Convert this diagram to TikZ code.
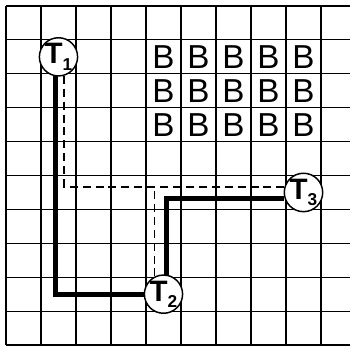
\documentclass[tikz,border=0pt]{standalone}
\usepackage{fontspec}
\setmainfont{Liberation Sans}
\newcommand{\tname}[1]{T\raisebox{-5pt}{\fontsize{14}{14}\selectfont #1}}

\begin{document}
\begin{tikzpicture}[x=1cm, y=0.9686cm,
  gridline/.style={line width=0.9pt},
  term/.style={draw, circle, line width=1.2pt, fill=white, minimum size=0.88cm,
    inner sep=0pt, font=\fontsize{24}{24}\selectfont\bfseries},
  blk/.style={font=\fontsize{27}{27}\selectfont},
  route/.style={line width=4pt},
  alt/.style={line width=1.5pt, dash pattern=on 6.5pt off 4pt}]
  \useasboundingbox (-0.171,-0.118) rectangle (9.829,10.177);
  % grid, the right column is cut off by the edge
  \foreach \i in {0,...,9}
    \draw[gridline] (\i,0) -- (\i,10);
  \foreach \j in {0,...,10}
    \draw[gridline] (0,\j) -- (9.829,\j);
  % blocked cells
  \foreach \i in {4,...,8}
    \foreach \j in {6,7,8}
      \node[blk] (b\i\j) at (\i+0.5,\j+0.5) {B};
  % terminals
  \node[term] (T1) at (1.5,8.5) {\tname{1}};
  \node[term] (T2) at (4.5,1.5) {\tname{2}};
  \node[term] (T3) at (8.5,4.5) {\tname{3}};
  % shared (dashed) tree
  \draw[alt] (T1.287) |- (T3.163);
  \coordinate (J) at (T2.117 |- T3.163);
  \draw[alt] (T2.117) -- (J);
  % chained (solid) route
  \draw[route] (T1.261) |- (T2.west);
  \draw[route] (T2.81) |- (T3.197);
\end{tikzpicture}
\end{document}
